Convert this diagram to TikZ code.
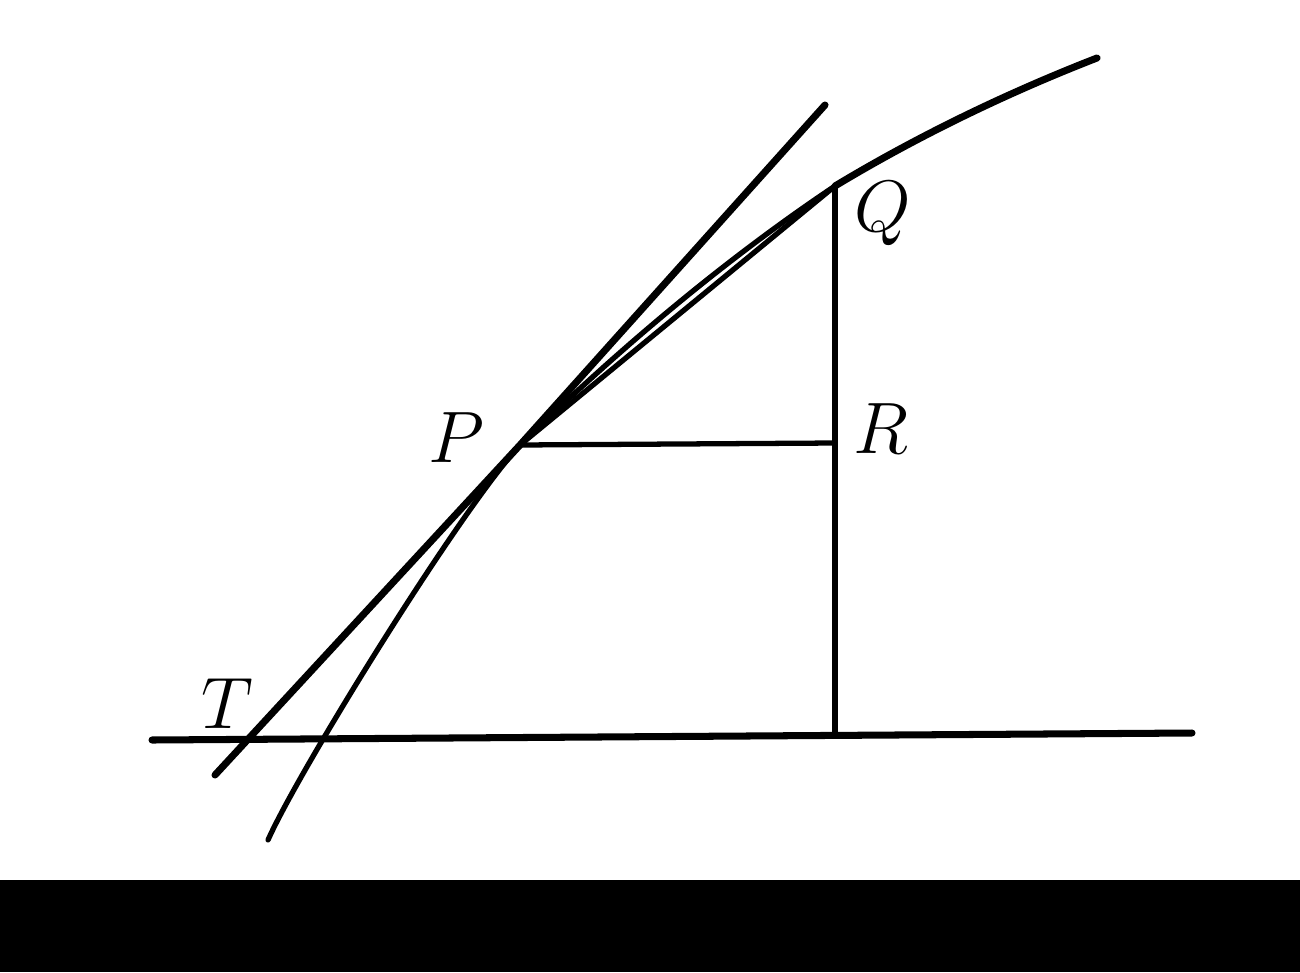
\documentclass[tikz,border=0pt]{standalone}
\usetikzlibrary{positioning}

\tikzset{
  thick line/.style = {line width=2pt, line cap=round},
  thin line/.style  = {line width=1.5pt, line cap=round},
  pt label/.style   = {font=\fontsize{21}{24}\selectfont, inner sep=0pt}
}

\begin{document}
\begin{tikzpicture}
  % Fix the frame of the picture
  \useasboundingbox (0,0) rectangle (13,9.72);
  \fill[black] (0,0) rectangle (13,0.92);

  % Points of the figure
  \coordinate (P) at (5.20,5.27);
  \coordinate (Q) at (8.35,7.86);
  \coordinate (R) at (8.35,5.29);
  \coordinate (foot) at (8.35,2.36);
  \coordinate (start) at (2.68,1.32);
  \coordinate (finish) at (10.97,9.14);
  % Ends of the tangent and of the axis
  \coordinate (tb) at (2.15,1.97);
  \coordinate (te) at (8.25,8.67);
  \coordinate (ab) at (1.52,2.32);
  \coordinate (ae) at (11.92,2.39);

  % Axis and the curve
  \draw[thick line] (ab) -- (ae);
  \draw[thin line] (start) .. controls (2.98,2.00) and (4.60,4.62) .. (P);
  \draw[thin line] (P) .. controls (6.18,6.22) and (7.23,7.11) .. (Q);
  \draw[thick line] (Q) .. controls (9.18,8.36) and (10.07,8.79) .. (finish);

  % Tangent at P, chord PQ and the ordinates
  \draw[thick line] (tb) -- (P) -- (te);
  \draw[thin line] (P) -- (Q);
  \draw[thin line] (P) -- (R);
  \draw[thin line] (Q) -- (foot);

  % Labels
  \node[pt label] (lP) at (4.56,5.34) {$P$};
  \node[pt label] (lQ) at (8.83,7.58) {$Q$};
  \node[pt label] (lR) at (8.81,5.43) {$R$};
  \node[pt label] (lT) at (2.27,2.68) {$T$};
\end{tikzpicture}
\end{document}
